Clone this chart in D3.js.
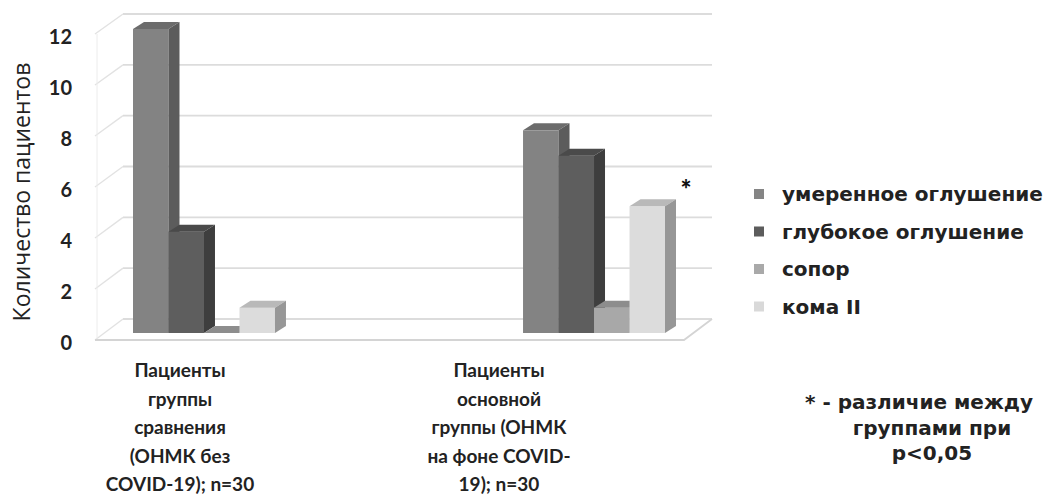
<!DOCTYPE html>
<html>
<head>
<meta charset="utf-8">
<script src="https://cdn.jsdelivr.net/npm/d3@7"></script>
<style>
  body { margin: 0; background: #fff; }
  svg { display: block; }
</style>
</head>
<body>
<div id="chart"></div>
<script>
// Data
const groupNames = ["comparison", "main"];
const groupLabels = [
    ["Пациенты", "группы", "сравнения", "(ОНМК без", "COVID-19); n=30"],
    ["Пациенты", "основной", "группы (ОНМК", "на фоне COVID-", "19); n=30"]
];
const seriesNames = ["умеренное оглушение", "глубокое оглушение", "сопор", "кома II"];
const comparisonValues = [12, 4, 0, 1];
const mainValues = [8, 7, 1, 5];
const yTicks = [0, 2, 4, 6, 8, 10, 12];
const footnoteLines = ["* - различие между", "группами при", "p<0,05"];

const width = 1050, height = 497;

// colours per series: front, top, side
const frontColours = ["#838383", "#5e5e5e", "#a8a8a8", "#dcdcdc"];
const topColours = ["#6c6c6c", "#4a4a4a", "#8d8d8d", "#b9b9b9"];
const sideColours = ["#5c5c5c", "#3e3e3e", "#7c7c7c", "#979797"];
const legendColours = ["#858585", "#5c5c5c", "#a9a9a9", "#d9d9d9"];

const svg = d3.select("#chart").append("svg")
    .attr("width", width)
    .attr("height", height);

// 3D-ish geometry
const wallDx = 28, wallDy = -21;   // floor depth
const barDx = 11, barDy = -7;      // bar depth
const floorLeft = 95, floorRight = 684;

const yFront = d3.scaleLinear().domain([0, 12]).range([340, 34]);
const yBack = d3.scaleLinear().domain([0, 12]).range([319, 14]);
const yBar = d3.scaleLinear().domain([0, 12]).range([333, 29]);

const x0 = d3.scaleBand().domain(groupNames).range([133, 665]).paddingInner(0.636).paddingOuter(0);
const x1 = d3.scaleBand().domain(seriesNames).range([0, x0.bandwidth()]);
const xLabel = d3.scalePoint().domain(groupNames).range([180, 499]);

const grid = svg.append("g");

// back wall gridlines
grid.selectAll(".back")
    .data(yTicks)
    .enter()
    .append("line")
    .attr("x1", floorLeft + wallDx)
    .attr("x2", floorRight + wallDx)
    .attr("y1", d => yBack(d))
    .attr("y2", d => yBack(d))
    .attr("stroke", "#dcdcdc")
    .attr("stroke-width", 1.8);

// side wall gridlines
grid.selectAll(".side")
    .data(yTicks)
    .enter()
    .append("line")
    .attr("x1", floorLeft)
    .attr("x2", floorLeft + wallDx)
    .attr("y1", d => yFront(d))
    .attr("y2", d => yBack(d))
    .attr("stroke", "#e2e2e2")
    .attr("stroke-width", 1.4);

// left front edge
grid.append("line")
    .attr("x1", floorLeft + 2).attr("x2", floorLeft + 2)
    .attr("y1", yFront(12)).attr("y2", yFront(0))
    .attr("stroke", "#ececec").attr("stroke-width", 1);

// floor outline
grid.append("path")
    .attr("d", `M${floorLeft},${yFront(0)}L${floorRight},${yFront(0)}L${floorRight + wallDx},${yBack(0)}`)
    .attr("fill", "none")
    .attr("stroke", "#d4d4d4")
    .attr("stroke-width", 1.8);

// bars
const groupData = [comparisonValues, mainValues];
groupNames.forEach((g, gi) => {
    const gEl = svg.append("g").attr("transform", `translate(${x0(g)},0)`);
    seriesNames.forEach((s, si) => {
        const v = groupData[gi][si];
        const x = x1(s), w = x1.bandwidth();
        const top = yBar(v), base = yBar(0);
        // front face
        gEl.append("rect")
            .attr("x", x).attr("y", top)
            .attr("width", w).attr("height", base - top)
            .attr("fill", frontColours[si]);
        // top face
        gEl.append("path")
            .attr("d", `M${x},${top}L${x + w},${top}L${x + w + barDx},${top + barDy}L${x + barDx},${top + barDy}Z`)
            .attr("fill", topColours[si]);
        // side face
        gEl.append("path")
            .attr("d", `M${x + w},${top}L${x + w + barDx},${top + barDy}L${x + w + barDx},${base + barDy}L${x + w},${base}Z`)
            .attr("fill", sideColours[si]);
    });
});

// significance mark
svg.append("text")
    .attr("x", 686).attr("y", 199)
    .attr("text-anchor", "middle")
    .style("font-family", "Lato, sans-serif")
    .style("font-weight", "900")
    .style("font-size", "26px")
    .style("fill", "#111")
    .text("*");

// y tick labels
svg.selectAll(".ytick")
    .data(yTicks)
    .enter()
    .append("text")
    .attr("x", 72)
    .attr("y", d => yFront(d) + 3)
    .attr("dy", "0.35em")
    .attr("text-anchor", "end")
    .style("font-family", "Lato, sans-serif")
    .style("font-weight", "bold")
    .style("font-size", "20px")
    .style("fill", "#222")
    .text(d => d);

// y title
svg.append("text")
    .attr("transform", "translate(30,192) rotate(-90)")
    .attr("text-anchor", "middle")
    .style("font-family", "'Open Sans', sans-serif")
    .style("font-size", "23px")
    .style("fill", "#222")
    .text("Количество пациентов");

// category labels
groupNames.forEach((g, gi) => {
    svg.append("text")
        .attr("x", xLabel(g))
        .attr("text-anchor", "middle")
        .style("font-family", "Lato, sans-serif")
        .style("font-weight", "bold")
        .style("font-size", "19px")
        .style("fill", "#222")
        .selectAll("tspan")
        .data(groupLabels[gi])
        .enter()
        .append("tspan")
        .attr("x", xLabel(g))
        .attr("y", (d, i) => 377 + i * 28.5)
        .text(d => d);
});

// legend
const legend = svg.append("g");
seriesNames.forEach((s, i) => {
    const ly = 194 + i * 37.5;
    legend.append("rect")
        .attr("x", 754).attr("y", ly - 5)
        .attr("width", 10).attr("height", 10)
        .attr("fill", legendColours[i]);
    legend.append("text")
        .attr("x", 782).attr("y", ly)
        .attr("dy", "0.35em")
        .style("font-family", "'DejaVu Sans', sans-serif")
        .style("font-weight", "bold")
        .style("font-size", "20px")
        .style("fill", "#222")
        .text(s);
});

// footnote
svg.append("text")
    .attr("text-anchor", "middle")
    .style("font-family", "'DejaVu Sans', sans-serif")
    .style("font-weight", "bold")
    .style("font-size", "20px")
    .style("fill", "#222")
    .selectAll("tspan")
    .data(footnoteLines)
    .enter()
    .append("tspan")
    .attr("x", (d, i) => i === 0 ? 919 : 932)
    .attr("y", (d, i) => 409 + i * 25.5)
    .text(d => d);
</script>
</body>
</html>
